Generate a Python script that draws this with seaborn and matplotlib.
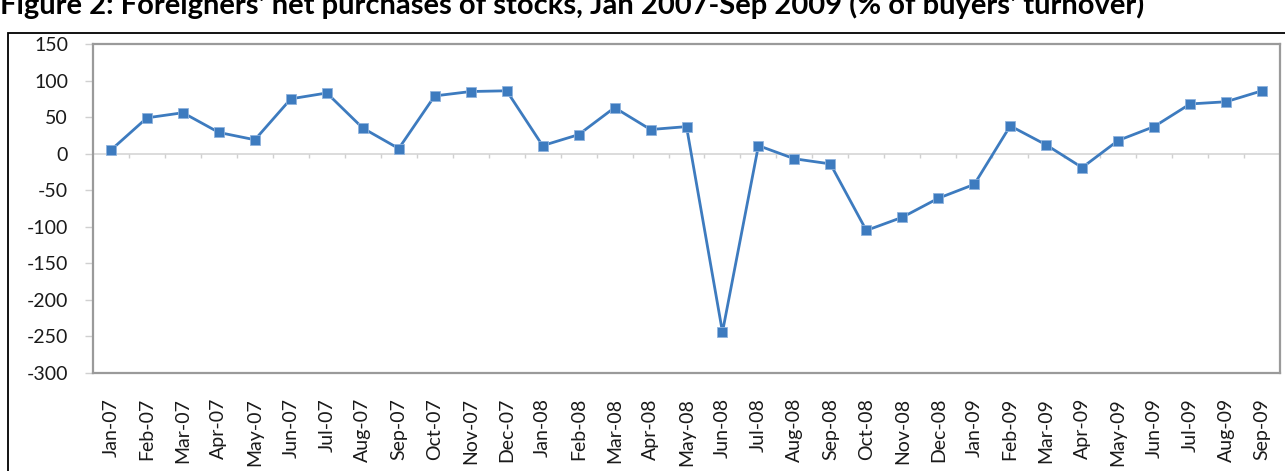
import matplotlib
matplotlib.use("Agg")
import matplotlib.pyplot as plt
import seaborn as sns
import pandas as pd
from matplotlib.patches import Rectangle

months = ["Jan-07", "Feb-07", "Mar-07", "Apr-07", "May-07", "Jun-07", "Jul-07", "Aug-07",
          "Sep-07", "Oct-07", "Nov-07", "Dec-07", "Jan-08", "Feb-08", "Mar-08", "Apr-08",
          "May-08", "Jun-08", "Jul-08", "Aug-08", "Sep-08", "Oct-08", "Nov-08", "Dec-08",
          "Jan-09", "Feb-09", "Mar-09", "Apr-09", "May-09", "Jun-09", "Jul-09", "Aug-09",
          "Sep-09"]
net_purchases = [5, 49, 56, 29, 19, 75, 83, 35, 7, 79, 85, 86, 11, 26, 63, 33, 37, -244,
                 11, -7, -14, -105, -87, -61, -42, 38, 12, -19, 18, 37, 68, 71, 86]
y_ticks = [-300, -250, -200, -150, -100, -50, 0, 50, 100, 150]
title = "Figure 2: Foreigners' net purchases of stocks, Jan 2007-Sep 2009 (% of buyers' turnover)"

sns.set_theme(style="white")
plt.rcParams["font.family"] = ["Lato", "DejaVu Sans"]

df = pd.DataFrame({"pos": range(len(months)), "value": net_purchases})

fig = plt.figure(figsize=(12.85, 4.71), dpi=100)
ax = fig.add_axes([93 / 1285, 1 - 373 / 471, (1280 - 93) / 1285, (373 - 44) / 471])

line_color = "#3d7bbf"
ax.axhline(0, color="#d9d9d9", lw=1.3, zorder=1)
ax.vlines([i + 0.5 for i in range(len(months) - 1)], -6, 0, color="#d0d0d0", lw=1.0, zorder=1)
sns.lineplot(data=df, x="pos", y="value", ax=ax, color=line_color, lw=2.0,
             marker="s", markersize=7.5, markeredgecolor="#8fb3dd", markeredgewidth=0.6,
             zorder=3)

ax.set_xlim(-0.5, len(months) - 0.5)
ax.set_ylim(-300, 150)
ax.set_yticks(y_ticks)
ax.set_yticklabels([str(v) for v in y_ticks], fontsize=14, color="#1a1a1a")
ax.set_xticks(range(len(months)))
ax.set_xticklabels(months, rotation=90, fontsize=14, color="#1a1a1a", ha="center", va="top")
ax.tick_params(axis="x", length=0, pad=18)
ax.tick_params(axis="y", length=6, width=1, color="#d0d0d0", direction="out", pad=12, left=True)
ax.set_xlabel("")
ax.set_ylabel("")
for s in ax.spines.values():
    s.set_visible(True)
    s.set_color("#9a9a9a")
    s.set_linewidth(1.6)

fig.patches.append(Rectangle((8 / 1285, -0.1), 2.0, 1.1 - 33 / 471, transform=fig.transFigure,
                             fill=False, edgecolor="black", lw=1.3, zorder=0))
fig.text(0.0, 1 - 14 / 471, title, fontsize=21, fontweight="bold", color="black",
         ha="left", va="baseline")

fig.savefig("out.png", dpi=100, facecolor="white")
